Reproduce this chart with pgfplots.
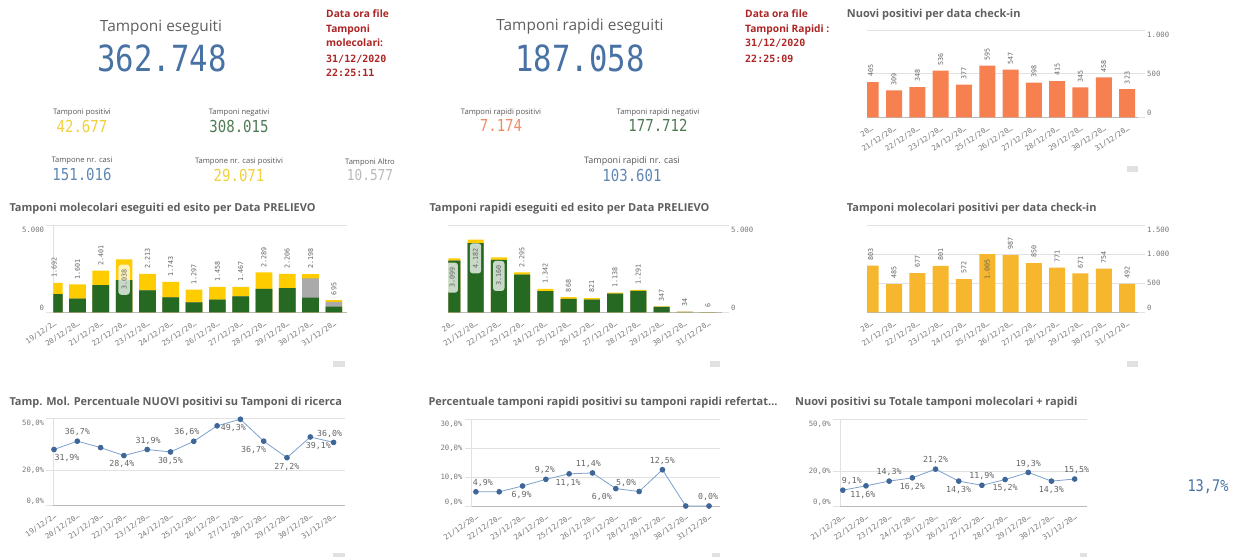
\documentclass[border=0pt]{standalone}
\usepackage{fontspec}
\setmainfont{Open Sans}
\newfontfamily\monof{DejaVu Sans Mono}
\newfontfamily\kpif[FakeStretch=0.85]{DejaVu Sans Mono}
\usepackage{pgfplots}
\usepackage{pgfplotstable}
\pgfplotsset{compat=1.18}

\definecolor{titlec}{RGB}{95,95,95}
\definecolor{tickc}{RGB}{120,120,120}
\definecolor{lblc}{RGB}{100,100,100}
\definecolor{gridc}{RGB}{225,225,225}
\definecolor{axc}{RGB}{185,185,185}
\definecolor{kblue}{RGB}{72,114,164}
\definecolor{kblue2}{RGB}{95,135,180}
\definecolor{kyellow}{RGB}{240,208,60}
\definecolor{kgreen}{RGB}{78,122,84}
\definecolor{korange}{RGB}{238,140,100}
\definecolor{kgray}{RGB}{185,185,185}
\definecolor{klab}{RGB}{85,85,85}
\definecolor{dred}{RGB}{172,36,36}
\definecolor{barorange}{RGB}{246,128,80}
\definecolor{bargold}{RGB}{246,182,45}
\definecolor{bgreen}{RGB}{38,105,34}
\definecolor{byellow}{RGB}{255,204,0}
\definecolor{bgray}{RGB}{170,170,170}
\definecolor{lineblue}{RGB}{125,160,205}
\definecolor{markblue}{RGB}{62,102,152}
\definecolor{scrollc}{RGB}{225,225,225}

\newcommand{\tickfont}{\monof\fontsize{7.3}{8}\selectfont}
% y tick labels: bottom one nudged up, top one nudged down (as in the dashboard)
\newcommand{\tlo}[1]{\smash{\raisebox{1.8pt}{#1}}}
\newcommand{\tmi}[1]{\smash{\raisebox{-2.6pt}{#1}}}
\newcommand{\thi}[1]{\smash{\raisebox{-7.6pt}{#1}}}

\pgfplotsset{
  dash/.style={
    scale only axis, anchor=south west, height=87pt, ymin=0,
    separate axis lines,
    axis x line*=bottom,
    x axis line style={draw=axc, line width=0.9pt, -},
    ymajorgrids, grid style={draw=gridc, line width=0.8pt},
    xtick style={draw=none},
    ytick style={draw=gridc, line width=0.8pt},
    tick align=outside, major tick length=7pt,
    xticklabel style={font=\tickfont, text=tickc, rotate=34, anchor=north east, inner sep=0.5pt},
    yticklabel style={font=\tickfont, text=tickc, inner sep=2pt},
  },
  rightax/.style={axis y line*=right, y axis line style={draw=none, -}},
  leftax/.style={axis y line*=left, y axis line style={draw=gridc, line width=0.8pt, -}},
  barlbl/.style={draw=none, mark=none, forget plot, point meta=explicit symbolic,
    nodes near coords,
    visualization depends on={value \thisrow{a}\as\myanc},
    visualization depends on={value \thisrow{f}\as\myop},
    every node near coord/.append style={rotate=90, anchor=\myanc,
      font=\monof\fontsize{6.7}{7}\selectfont, text=lblc,
      fill=white, fill opacity=\myop, text opacity=1, rounded corners=3pt,
      inner xsep=5pt, inner ysep=3.2pt}},
  linelbl/.style={draw=none, mark=none, forget plot, point meta=explicit symbolic,
    nodes near coords={\pgfplotspointmeta\%},
    visualization depends on={value \thisrow{a}\as\myanc},
    visualization depends on={value \thisrow{dx}\as\mydx},
    every node near coord/.append style={anchor=\myanc, xshift=\mydx pt,
      font=\monof\fontsize{8.3}{9}\selectfont, text=lblc, inner xsep=1pt, inner ysep=5pt}},
  lineplot/.style={color=lineblue, line width=0.8pt, mark=*, mark size=2.4pt,
    mark options={fill=markblue, draw=markblue}},
}

% molecular swabs by sampling date: g = negative, o = other, p = positive
\pgfplotstableread{
x g o p
0 1050 0 642
1 780 0 821
2 1560 0 841
3 1850 0 1188
4 1260 0 953
5 860 0 883
6 570 0 727
7 730 0 728
8 910 0 557
9 1350 0 939
10 1390 0 816
11 840 1110 248
12 320 280 95
}\molA

% rapid swabs by sampling date
\pgfplotstableread{
x g o p
0 2965 0 134
1 3972 0 210
2 3007 0 153
3 2161 0 134
4 1222 0 120
5 768 0 100
6 731 0 90
7 1068 0 70
8 1231 0 60
9 307 0 40
10 0 34 0
11 0 6 0
}\rapA

\begin{document}
\begin{tikzpicture}
\useasboundingbox (0pt,0pt) rectangle (1238pt,-557pt);

% ---------- KPI block 1 ----------
\node[anchor=base, text=titlec, font=\fontsize{15.4}{18}\selectfont] at (161pt,-31.7pt) {Tamponi eseguiti};
\node[anchor=base, text=kblue, font=\kpif\fontsize{36}{38}\selectfont] at (162pt,-71.7pt) {362.748};
\begin{scope}[every node/.style={anchor=base west, text=dred, inner sep=0pt}]
\node[font=\bfseries\fontsize{10.2}{11}\selectfont] at (326pt,-17.3pt) {Data ora file};
\node[font=\bfseries\fontsize{10.2}{11}\selectfont] at (326pt,-32.3pt) {Tamponi};
\node[font=\bfseries\fontsize{10.2}{11}\selectfont] at (326pt,-46.7pt) {molecolari:};
\node[font=\monof\bfseries\fontsize{10}{11}\selectfont] at (326pt,-62.7pt) {31/12/2020};
\node[font=\monof\bfseries\fontsize{10}{11}\selectfont] at (326pt,-76.7pt) {22:25:11};
\node[font=\bfseries\fontsize{10.2}{11}\selectfont] at (745pt,-17.3pt) {Data ora file};
\node[font=\bfseries\fontsize{10.2}{11}\selectfont] at (745pt,-32.3pt) {Tamponi Rapidi :};
\node[font=\monof\bfseries\fontsize{10}{11}\selectfont] at (745pt,-46.7pt) {31/12/2020};
\node[font=\monof\bfseries\fontsize{10}{11}\selectfont] at (745pt,-62.7pt) {22:25:09};
\end{scope}
\begin{scope}[every node/.style={anchor=base, inner sep=0pt}]
\node[text=klab, font=\fontsize{7.6}{8}\selectfont] at (82pt,-114pt) {Tamponi positivi};
\node[text=kyellow, font=\kpif\fontsize{16.5}{18}\selectfont] at (82pt,-132.7pt) {42.677};
\node[text=klab, font=\fontsize{7.6}{8}\selectfont] at (239pt,-114pt) {Tamponi negativi};
\node[text=kgreen, font=\kpif\fontsize{16.5}{18}\selectfont] at (239pt,-132.7pt) {308.015};
\node[text=klab, font=\fontsize{7.6}{8}\selectfont] at (82pt,-162.3pt) {Tampone nr. casi};
\node[text=kblue2, font=\kpif\fontsize{16.5}{18}\selectfont] at (82pt,-180pt) {151.016};
\node[text=klab, font=\fontsize{7.6}{8}\selectfont] at (239pt,-163.3pt) {Tampone nr. casi positivi};
\node[text=kyellow, font=\kpif\fontsize{16.5}{18}\selectfont] at (239pt,-181.7pt) {29.071};
\node[text=klab, font=\fontsize{7.6}{8}\selectfont] at (370pt,-164pt) {Tamponi Altro};
\node[text=kgray, font=\kpif\fontsize{15}{17}\selectfont] at (370pt,-180pt) {10.577};
% KPI block 2
\node[text=titlec, font=\fontsize{15.4}{18}\selectfont] at (580pt,-30pt) {Tamponi rapidi eseguiti};
\node[text=kblue, font=\kpif\fontsize{36}{38}\selectfont] at (580pt,-71.7pt) {187.058};
\node[text=klab, font=\fontsize{7.6}{8}\selectfont] at (501pt,-114pt) {Tamponi rapidi positivi};
\node[text=korange, font=\kpif\fontsize{16.5}{18}\selectfont] at (501pt,-131.7pt) {7.174};
\node[text=klab, font=\fontsize{7.6}{8}\selectfont] at (658pt,-114pt) {Tamponi rapidi negativi};
\node[text=kgreen, font=\kpif\fontsize{16.5}{18}\selectfont] at (658pt,-131.7pt) {177.712};
\node[text=klab, font=\fontsize{9}{10}\selectfont] at (632pt,-163.3pt) {Tamponi rapidi nr. casi};
\node[text=kblue2, font=\kpif\fontsize{16.5}{18}\selectfont] at (632pt,-181.7pt) {103.601};
\node[text=kblue, font=\kpif\fontsize{16}{18}\selectfont] at (1208pt,-491.7pt) {13,7\%};
\end{scope}

% ---------- chart titles ----------
\begin{scope}[every node/.style={anchor=base west, inner sep=0pt, text=titlec, font=\bfseries\fontsize{11}{13}\selectfont}]
\node at (846.7pt,-17.5pt) {Nuovi positivi per data check-in};
\node at (9.3pt,-211.7pt) {Tamponi molecolari eseguiti ed esito per Data PRELIEVO};
\node at (429.3pt,-211.7pt) {Tamponi rapidi eseguiti ed esito per Data PRELIEVO};
\node at (846.7pt,-211.7pt) {Tamponi molecolari positivi per data check-in};
\node at (9.3pt,-405.7pt) {Tamp. Mol. Percentuale NUOVI positivi su Tamponi di ricerca};
\node at (428.3pt,-405pt) {Percentuale tamponi rapidi positivi su tamponi rapidi refertat…};
\node at (795pt,-405pt) {Nuovi positivi su Totale tamponi molecolari + rapidi};
\end{scope}

% scroll indicators
\fill[scrollc] (1127pt,-166pt) rectangle (1138pt,-172pt);
\fill[scrollc] (333pt,-361pt) rectangle (345pt,-367pt);
\fill[scrollc] (710pt,-361pt) rectangle (720pt,-367pt);
\fill[scrollc] (1127pt,-361pt) rectangle (1138pt,-367pt);
\fill[scrollc] (333pt,-553pt) rectangle (345pt,-557pt);
\fill[scrollc] (712pt,-553pt) rectangle (720pt,-557pt);
\fill[scrollc] (1080pt,-553pt) rectangle (1087pt,-557pt);

% ---------- Panel 1: Nuovi positivi per data check-in ----------
\begin{axis}[dash, rightax, at={(867pt,-117.3pt)}, width=271pt,
  xmin=-0.16, xmax=11.47, ymax=1000,
  ytick={0,500,1000}, yticklabels={\tlo{0},\tmi{500},\thi{1.000}},
  xtick={0,...,11},
  xticklabels={20…,21/12/20…,22/12/20…,23/12/20…,24/12/20…,25/12/20…,26/12/20…,27/12/20…,28/12/20…,29/12/20…,30/12/20…,31/12/20…}]
\addplot[ybar, bar width=16pt, bar shift=0pt, fill=barorange, draw=none] coordinates {
(0,405) (1,309) (2,348) (3,536) (4,377) (5,595) (6,547) (7,398) (8,415) (9,345) (10,458) (11,323)};
\addplot[barlbl] table[x=x,y=y,meta=l] {
x y l a f
0 405 405 west 0
1 309 309 west 0
2 348 348 west 0
3 536 536 west 0
4 377 377 west 0
5 595 595 west 0
6 547 547 west 0
7 398 398 west 0
8 415 415 west 0
9 345 345 west 0
10 458 458 west 0
11 323 323 west 0
};
\end{axis}

% ---------- Panel 2: molecolari per data prelievo ----------
\begin{axis}[dash, leftax, at={(53.3pt,-312.3pt)}, width=293.4pt,
  xmin=-0.04, xmax=12.55, ymax=5000,
  ytick={0,5000}, yticklabels={\tlo{0},\thi{5.000}},
  xtick={0,...,12},
  xticklabels={19/12/2…,20/12/20…,21/12/20…,22/12/20…,23/12/20…,24/12/20…,25/12/20…,26/12/20…,27/12/20…,28/12/20…,29/12/20…,30/12/20…,31/12/20…}]
\addplot[ybar, bar width=16.7pt, bar shift=0pt, fill=byellow, draw=none] table[x=x, y expr=\thisrow{g}+\thisrow{o}+\thisrow{p}] \molA;
\addplot[ybar, bar width=16.7pt, bar shift=0pt, fill=bgray, draw=none] table[x=x, y expr=\thisrow{g}+\thisrow{o}] \molA;
\addplot[ybar, bar width=16.7pt, bar shift=0pt, fill=bgreen, draw=none] table[x=x, y=g] \molA;
\addplot[barlbl] table[x=x,y=y,meta=l] {
x y l a f
0 1692 1.692 west 0
1 1601 1.601 west 0
2 2401 2.401 west 0
3 2752 3.038 east 0.75
4 2213 2.213 west 0
5 1743 1.743 west 0
6 1297 1.297 west 0
7 1458 1.458 west 0
8 1467 1.467 west 0
9 2289 2.289 west 0
10 2206 2.206 west 0
11 2198 2.198 west 0
12 695 695 west 0
};
\end{axis}

% ---------- Panel 3: rapidi per data prelievo ----------
\begin{axis}[dash, rightax, at={(448.3pt,-312.3pt)}, width=273.7pt,
  xmin=-0.17, xmax=11.6, ymax=5000,
  ytick={0,5000}, yticklabels={\tlo{0},\thi{5.000}},
  xtick={0,...,11},
  xticklabels={20…,21/12/20…,22/12/20…,23/12/20…,24/12/20…,25/12/20…,26/12/20…,27/12/20…,28/12/20…,29/12/20…,30/12/20…,31/12/20…}]
\addplot[ybar, bar width=16pt, bar shift=0pt, fill=byellow, draw=none] table[x=x, y expr=\thisrow{g}+\thisrow{o}+\thisrow{p}] \rapA;
\addplot[ybar, bar width=16pt, bar shift=0pt, fill=bgray, draw=none] table[x=x, y expr=\thisrow{g}+\thisrow{o}] \rapA;
\addplot[ybar, bar width=16pt, bar shift=0pt, fill=bgreen, draw=none] table[x=x, y=g] \rapA;
\addplot[barlbl] table[x=x,y=y,meta=l] {
x y l a f
0 2870 3.099 east 0.75
1 3980 4.182 east 0.75
2 2970 3.160 east 0.75
3 2295 2.295 west 0
4 1342 1.342 west 0
5 868 868 west 0
6 821 821 west 0
7 1138 1.138 west 0
8 1291 1.291 west 0
9 347 347 west 0
10 34 34 west 0
11 6 6 west 0
};
\end{axis}

% ---------- Panel 4: molecolari positivi per data check-in ----------
\begin{axis}[dash, rightax, at={(867pt,-312.3pt)}, width=271pt,
  xmin=-0.16, xmax=11.47, ymax=1500,
  ytick={0,500,1000,1500}, yticklabels={\tlo{0},\tmi{500},\tmi{1.000},\thi{1.500}},
  xtick={0,...,11},
  xticklabels={20…,21/12/20…,22/12/20…,23/12/20…,24/12/20…,25/12/20…,26/12/20…,27/12/20…,28/12/20…,29/12/20…,30/12/20…,31/12/20…}]
\addplot[ybar, bar width=16pt, bar shift=0pt, fill=bargold, draw=none] coordinates {
(0,803) (1,485) (2,677) (3,801) (4,572) (5,1005) (6,987) (7,850) (8,771) (9,671) (10,754) (11,492)};
\addplot[barlbl] table[x=x,y=y,meta=l] {
x y l a f
0 803 803 west 0
1 485 485 west 0
2 677 677 west 0
3 801 801 west 0
4 572 572 west 0
5 995 1.005 east 0
6 987 987 west 0
7 850 850 west 0
8 771 771 west 0
9 671 671 west 0
10 754 754 west 0
11 492 492 west 0
};
\end{axis}

% ---------- Panel 5: % nuovi positivi molecolari ----------
\begin{axis}[dash, leftax, at={(53.3pt,-505pt)}, width=291.7pt,
  xmin=-0.03, xmax=12.49, ymax=50, clip=false,
  ytick={0,20,50}, yticklabels={\tlo{0,0\%},\tmi{20,0\%},\thi{50,0\%}},
  xtick={0,...,12},
  xticklabels={19/12/2…,20/12/20…,21/12/20…,22/12/20…,23/12/20…,24/12/20…,25/12/20…,26/12/20…,27/12/20…,28/12/20…,29/12/20…,30/12/20…,31/12/20…}]
\addplot[lineplot] coordinates {
(0,31.9) (1,36.7) (2,33.0) (3,28.4) (4,31.9) (5,30.5) (6,36.6) (7,45.5) (8,49.3) (9,36.7) (10,27.2) (11,39.1) (12,36.0)};
\addplot[linelbl] table[x=x,y=y,meta=l] {
x y l a dx
0 31.9 31,9 north 13
1 36.7 36,7 south 0
3 28.4 28,4 north -2
4 31.9 31,9 south 1
5 30.5 30,5 north 0
6 36.6 36,6 south -7
8 49.3 49,3 north -7
9 36.7 36,7 north -10
10 27.2 27,2 north 0
11 39.1 39,1 north 8
12 36.0 36,0 south -4
};
\end{axis}

% ---------- Panel 6: % rapidi positivi ----------
\begin{axis}[dash, leftax, at={(471.7pt,-506pt)}, width=248.3pt,
  xmin=-0.18, xmax=10.47, ymax=30, clip=false,
  ytick={0,10,20,30}, yticklabels={\tlo{0,0\%},\tmi{10,0\%},\tmi{20,0\%},\thi{30,0\%}},
  xtick={0,...,10},
  xticklabels={21/12/20…,22/12/20…,23/12/20…,24/12/20…,25/12/20…,26/12/20…,27/12/20…,28/12/20…,29/12/20…,30/12/20…,31/12/20…}]
\addplot[lineplot] coordinates {
(0,4.9) (1,4.9) (2,6.9) (3,9.2) (4,11.1) (5,11.4) (6,6.0) (7,5.0) (8,12.5) (9,0) (10,0)};
\addplot[linelbl] table[x=x,y=y,meta=l] {
x y l a dx
0 4.9 4,9 south 7
2 6.9 6,9 north -1
3 9.2 9,2 south -1
4 11.1 11,1 north -1
5 11.4 11,4 south -4
6 6.0 6,0 north -14
7 5.0 5,0 south -13
8 12.5 12,5 south 0
10 0 0,0 south -1
};
\end{axis}

% ---------- Panel 7: nuovi positivi su totale ----------
\begin{axis}[dash, leftax, at={(840pt,-506pt)}, width=246.7pt,
  xmin=-0.12, xmax=10.52, ymax=50, clip=false,
  ytick={0,20,50}, yticklabels={\tlo{0,0\%},\tmi{20,0\%},\thi{50,0\%}},
  xtick={0,...,10},
  xticklabels={21/12/20…,22/12/20…,23/12/20…,24/12/20…,25/12/20…,26/12/20…,27/12/20…,28/12/20…,29/12/20…,30/12/20…,31/12/20…}]
\addplot[lineplot] coordinates {
(0,9.1) (1,11.6) (2,14.3) (3,16.2) (4,21.2) (5,14.3) (6,11.9) (7,15.2) (8,19.3) (9,14.3) (10,15.5)};
\addplot[linelbl] table[x=x,y=y,meta=l] {
x y l a dx
0 9.1 9,1 south 9
1 11.6 11,6 north -3
2 14.3 14,3 south 0
3 16.2 16,2 north 0
4 21.2 21,2 south 0
5 14.3 14,3 north 0
6 11.9 11,9 south 0
7 15.2 15,2 north 0
8 19.3 19,3 south 0
9 14.3 14,3 north 0
10 15.5 15,5 south 2
};
\end{axis}
\end{tikzpicture}
\end{document}
